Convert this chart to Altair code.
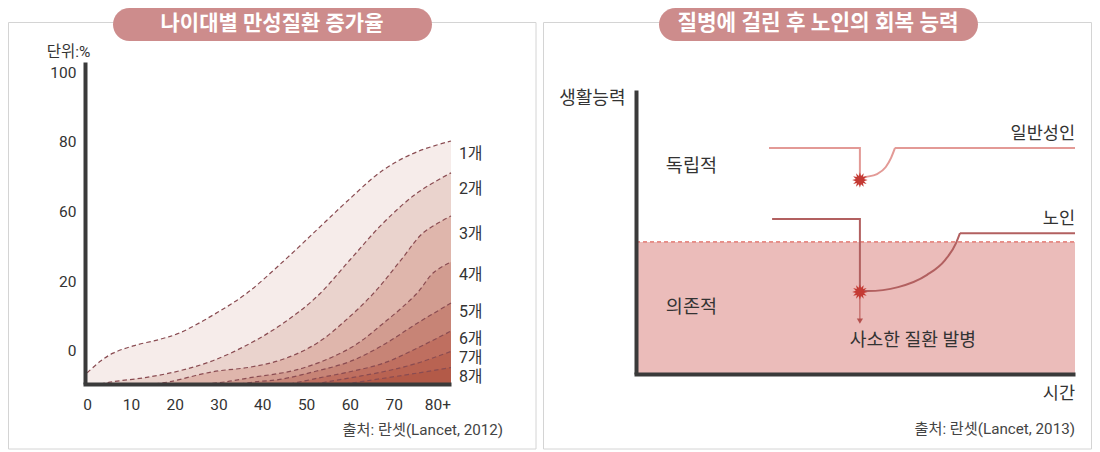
import altair as alt
import pandas as pd
import math

FONT = "Roboto, Noto Sans CJK KR"
INK = "#333333"
AXIS = "#3a3a3a"

# ---- left panel data: (age, % on the printed axis)
age_1 = [0, 2.9, 5.9, 10.5, 16.6, 21.2, 28.7, 36.4, 44.7, 52.4, 59.3, 67.6, 75.3, 83.1]
val_1 = [-6.5, -3.3, -0.9, 1.2, 3.1, 5.0, 10.1, 16.4, 31, 49.1, 62.7, 71.7, 76.9, 80]
age_2 = [3, 5.9, 13.6, 21.2, 28.7, 37.2, 44.7, 52.4, 60, 67.6, 75.3, 83.1]
val_2 = [-9.7, -9.04, -7.8, -5.9, -3.05, 1.9, 7.7, 15.4, 32, 53.1, 65.1, 70.9]
age_3 = [15.5, 18.9, 28.7, 37.2, 44.7, 52.4, 60, 66.1, 71.8, 76.7, 83.1]
val_3 = [-9.7, -9.04, -6.2, -4.9, -2.65, 1.9, 9.7, 17.4, 32.4, 47.4, 57.1]
age_4 = [26.9, 31.9, 37.2, 48.6, 60, 67.6, 75.3, 79, 83.1]
val_4 = [-9.7, -9.04, -7.9, -5.4, 0.5, 7.7, 16.4, 24.6, 30.9]
age_5 = [34.9, 38.7, 44, 52.4, 60, 67.6, 75.3, 83.1]
val_5 = [-9.7, -9.04, -8.4, -6, -3.3, 1.45, 7.7, 13.6]
age_6 = [46.3, 52.4, 60, 67.6, 75.3, 83.1]
val_6 = [-9.7, -8.1, -6.2, -3.8, 0.5, 5.5]
age_7 = [52, 56.1, 67.6, 75.3, 83.1]
val_7 = [-9.7, -8.8, -6.2, -3.8, -0.4]
age_8 = [58.9, 63.8, 75.3, 83.1]
val_8 = [-9.7, -8.8, -6.6, -5]
series = {"1개": (age_1, val_1), "2개": (age_2, val_2), "3개": (age_3, val_3), "4개": (age_4, val_4),
          "5개": (age_5, val_5), "6개": (age_6, val_6), "7개": (age_7, val_7), "8개": (age_8, val_8)}
band_colors = ["#f6ecea", "#ead3cd", "#dfb6ac", "#d29c90", "#c78476", "#bf6f60", "#b96352", "#b35a48"]
label_y = [76.3, 66.3, 46.8, 23.4, 11, 3.2, -2.3, -7.6]
age_ticks = [0, 10, 20, 30, 40, 50, 60, 70, 80]
pct_ticks = [0, 20, 60, 80, 100]
BASE = -9.7

# ---- right panel data
adult_flat_t = [30.3, 51, 51]
adult_flat_v = [79.6, 79.6, 69]
adult_rec_t = [51, 52.4, 54.9, 56.9, 58.1, 59]
adult_rec_v = [69, 69.4, 70.4, 72.9, 76.1, 79.6]
adult_end_t = [59, 100]
adult_end_v = [79.6, 79.6]
elder_flat_t = [31, 51, 51]
elder_flat_v = [54.6, 54.6, 29.2]
elder_rec_t = [51, 52.8, 59.7, 66.3, 70.4, 72.9, 73.8]
elder_rec_v = [29.2, 29.2, 30.6, 34.9, 40.1, 46.1, 49.6]
elder_end_t = [73.8, 100]
elder_end_v = [49.6, 49.6]
THRESH = 46.5
ONSET_T = 51

# ---- scales
lx = alt.Scale(domain=[-0.96, 83.1], range=[75, 443], nice=False, zero=False)
ly = alt.Scale(domain=[BASE, 0, 20, 60, 80, 102.9], range=[376, 342, 273, 203, 133, 54], nice=False, zero=False)
rx = alt.Scale(domain=[-0.46, 100], range=[626, 1067], nice=False, zero=False)
ry = alt.Scale(domain=[0, 100], range=[366, 82], nice=False, zero=False)

W, H = 1084, 442
axis_common = dict(ticks=False, grid=False, domainColor=AXIS, domainWidth=4, zindex=1, title=None,
                   labelFont=FONT, labelFontSize=15.5, labelColor=INK)

lxaxis = alt.Axis(orient="bottom", offset=376 - H, values=age_ticks, labelPadding=13,
                  labelExpr="datum.value == 80 ? '80+' : datum.label", labelOverlap=False, labelFlush=False, **axis_common)
lyaxis = alt.Axis(orient="left", offset=-77, values=pct_ticks, labelPadding=9, labelOverlap=False, **axis_common)
rxaxis = alt.Axis(orient="bottom", offset=366 - H, labels=False, **axis_common)
ryaxis = alt.Axis(orient="left", offset=-628, labels=False, **axis_common)

# ---- left layers
left = []
frames = {name: pd.DataFrame({"age": a, "v": v, "base": [BASE] * len(a)}) for name, (a, v) in series.items()}
for i, name in enumerate(series):
    left.append(alt.Chart(frames[name]).mark_area(interpolate="catmull-rom", color=band_colors[i]).encode(
        x=alt.X("age:Q", scale=lx, axis=None),
        y=alt.Y("v:Q", scale=ly, axis=None),
        y2="base:Q"))
for i, name in enumerate(series):
    left.append(alt.Chart(frames[name]).mark_line(interpolate="catmull-rom", color="#8a4c52", strokeWidth=1.2,
                                                  strokeDash=[4.5, 3]).encode(
        x=alt.X("age:Q", scale=lx, axis=None), y=alt.Y("v:Q", scale=ly, axis=None)))

ldf = pd.DataFrame({"t": list(series), "x": [84.9] * 8, "y": label_y})
left.append(alt.Chart(ldf).mark_text(align="left", baseline="middle", font=FONT, fontSize=16, color=INK).encode(
    x=alt.X("x:Q", scale=lx, axis=None), y=alt.Y("y:Q", scale=ly, axis=None), text="t:N"))

def ltext(t, x, y, size, align="right", color=INK):
    return alt.Chart(pd.DataFrame({"t": [t], "x": [x], "y": [y]})).mark_text(
        align=align, baseline="middle", font=FONT, fontSize=size, color=color).encode(
        x=alt.X("x:Q", scale=lx, axis=None), y=alt.Y("y:Q", scale=ly, axis=None), text="t:N")

left.append(ltext("단위:%", 0.7, 105.7, 15.5))
left.append(ltext("출처: 란셋(Lancet, 2012)", 95, -22.9, 15.2, color="#444444"))
left_chart = alt.layer(*left)

left_axes = alt.Chart(pd.DataFrame({"age": [0, 80], "v": [0, 100]})).mark_point(opacity=0).encode(
    x=alt.X("age:Q", scale=lx, axis=lxaxis), y=alt.Y("v:Q", scale=ly, axis=lyaxis))
right_axes = alt.Chart(pd.DataFrame({"t": [0, 100], "v": [0, 100]})).mark_point(opacity=0).encode(
    x=alt.X("t:Q", scale=rx, axis=rxaxis), y=alt.Y("v:Q", scale=ry, axis=ryaxis))

# ---- right layers
def rtext(t, x, y, size, align="right", color=INK):
    return alt.Chart(pd.DataFrame({"t": [t], "x": [x], "y": [y]})).mark_text(
        align=align, baseline="middle", font=FONT, fontSize=size, color=color).encode(
        x=alt.X("x:Q", scale=rx, axis=None), y=alt.Y("y:Q", scale=ry, axis=None), text="t:N")

def path(ts, vs, color, interp="linear"):
    d = pd.DataFrame({"t": ts, "v": vs, "o": range(len(ts))})
    return alt.Chart(d).mark_line(color=color, strokeWidth=2, strokeJoin="miter", interpolate=interp).encode(
        x=alt.X("t:Q", scale=rx, axis=None), y=alt.Y("v:Q", scale=ry, axis=None), order="o:Q")

star_pts = []
for k in range(24):
    r = 1.0 if k % 2 == 0 else 0.55
    ang = math.pi * k / 12
    star_pts.append(f"{r * math.cos(ang):.3f},{r * math.sin(ang):.3f}")
STAR = "M" + " L".join(star_pts) + " Z"

zone = alt.Chart(pd.DataFrame({"a": [0], "b": [100], "c": [0], "d": [THRESH]})).mark_rect(color="#ebbcba").encode(
    x=alt.X("a:Q", scale=rx, axis=None), x2="b:Q",
    y=alt.Y("c:Q", scale=ry, axis=None), y2="d:Q")
dash = alt.Chart(pd.DataFrame({"t": [0, 100], "v": [THRESH, THRESH]})).mark_line(
    color="#e0675f", strokeWidth=1.2, strokeDash=[4, 3]).encode(
    x=alt.X("t:Q", scale=rx, axis=None), y=alt.Y("v:Q", scale=ry, axis=None))
arrow = alt.Chart(pd.DataFrame({"t": [ONSET_T, ONSET_T], "v": [28.5, 19]})).mark_line(
    color="#b5504e", strokeWidth=1).encode(
    x=alt.X("t:Q", scale=rx, axis=None), y=alt.Y("v:Q", scale=ry, axis=None))
head = alt.Chart(pd.DataFrame({"t": [ONSET_T], "v": [18.6]})).mark_point(
    shape="triangle-down", filled=True, color="#b5504e", size=38, opacity=1).encode(
    x=alt.X("t:Q", scale=rx, axis=None), y=alt.Y("v:Q", scale=ry, axis=None))
stars = alt.Chart(pd.DataFrame({"t": [ONSET_T, ONSET_T], "v": [68.3, 28.9]})).mark_point(
    shape=STAR, filled=True, color="#c43a34", size=240, opacity=1).encode(
    x=alt.X("t:Q", scale=rx, axis=None), y=alt.Y("v:Q", scale=ry, axis=None))

right_chart = alt.layer(
    zone, dash,
    path(adult_flat_t, adult_flat_v, "#e39a96"),
    path(adult_rec_t, adult_rec_v, "#e39a96", "monotone"),
    path(adult_end_t, adult_end_v, "#e39a96"),
    path(elder_flat_t, elder_flat_v, "#b26060"),
    path(elder_rec_t, elder_rec_v, "#b26060", "monotone"),
    path(elder_end_t, elder_end_v, "#b26060"),
    arrow, head, stars,
    rtext("생활능력", -2.4, 96.9, 18),
    rtext("독립적", 6.8, 73.2, 18.5, "left"),
    rtext("의존적", 6.8, 23.6, 18.5, "left"),
    rtext("일반성인", 100, 84.6, 17.5),
    rtext("노인", 100, 54.6, 17.5),
    rtext("사소한 질환 발병", 48.7, 11.7, 18.2, "left"),
    rtext("시간", 100, -7, 17.5),
    rtext("출처: 란셋(Lancet, 2013)", 100, -19.4, 15.2, color="#444444"),
)

# ---- frames and headers
def box(x, x2):
    return alt.Chart(pd.DataFrame({"k": [0]})).mark_rect(fillOpacity=0, stroke="#d4d4d4", strokeWidth=1).encode(
        x=alt.value(x), x2=alt.value(x2), y=alt.value(14.5), y2=alt.value(441))

def pill(x, x2, cx, size, text):
    p = alt.Chart(pd.DataFrame({"k": [0]})).mark_rect(fill="#cd8c8c", cornerRadius=16.5).encode(
        x=alt.value(x), x2=alt.value(x2), y=alt.value(0), y2=alt.value(33))
    t = alt.Chart(pd.DataFrame({"t": [text]})).mark_text(
        font=FONT, fontSize=size, fontWeight=700, color="white", baseline="middle", align="center").encode(
        x=alt.value(cx), y=alt.value(16), text="t:N")
    return p, t

p1, t1 = pill(105, 424, 264, 21, "나이대별 만성질환 증가율")
p2, t2 = pill(651, 970, 810, 21.3, "질병에 걸린 후 노인의 회복 능력")

chart = alt.layer(
    box(0.5, 528), box(535.5, 1083.5),
    left_chart, right_chart, left_axes, right_axes,
    p1, t1, p2, t2,
).resolve_scale(x="independent", y="independent").resolve_axis(x="independent", y="independent").properties(
    width=W, height=H, padding=0, autosize=alt.AutoSizeParams(type="none")
).configure_view(stroke=None)

chart.save("out.html", embed_options={"renderer": "svg", "actions": False})
